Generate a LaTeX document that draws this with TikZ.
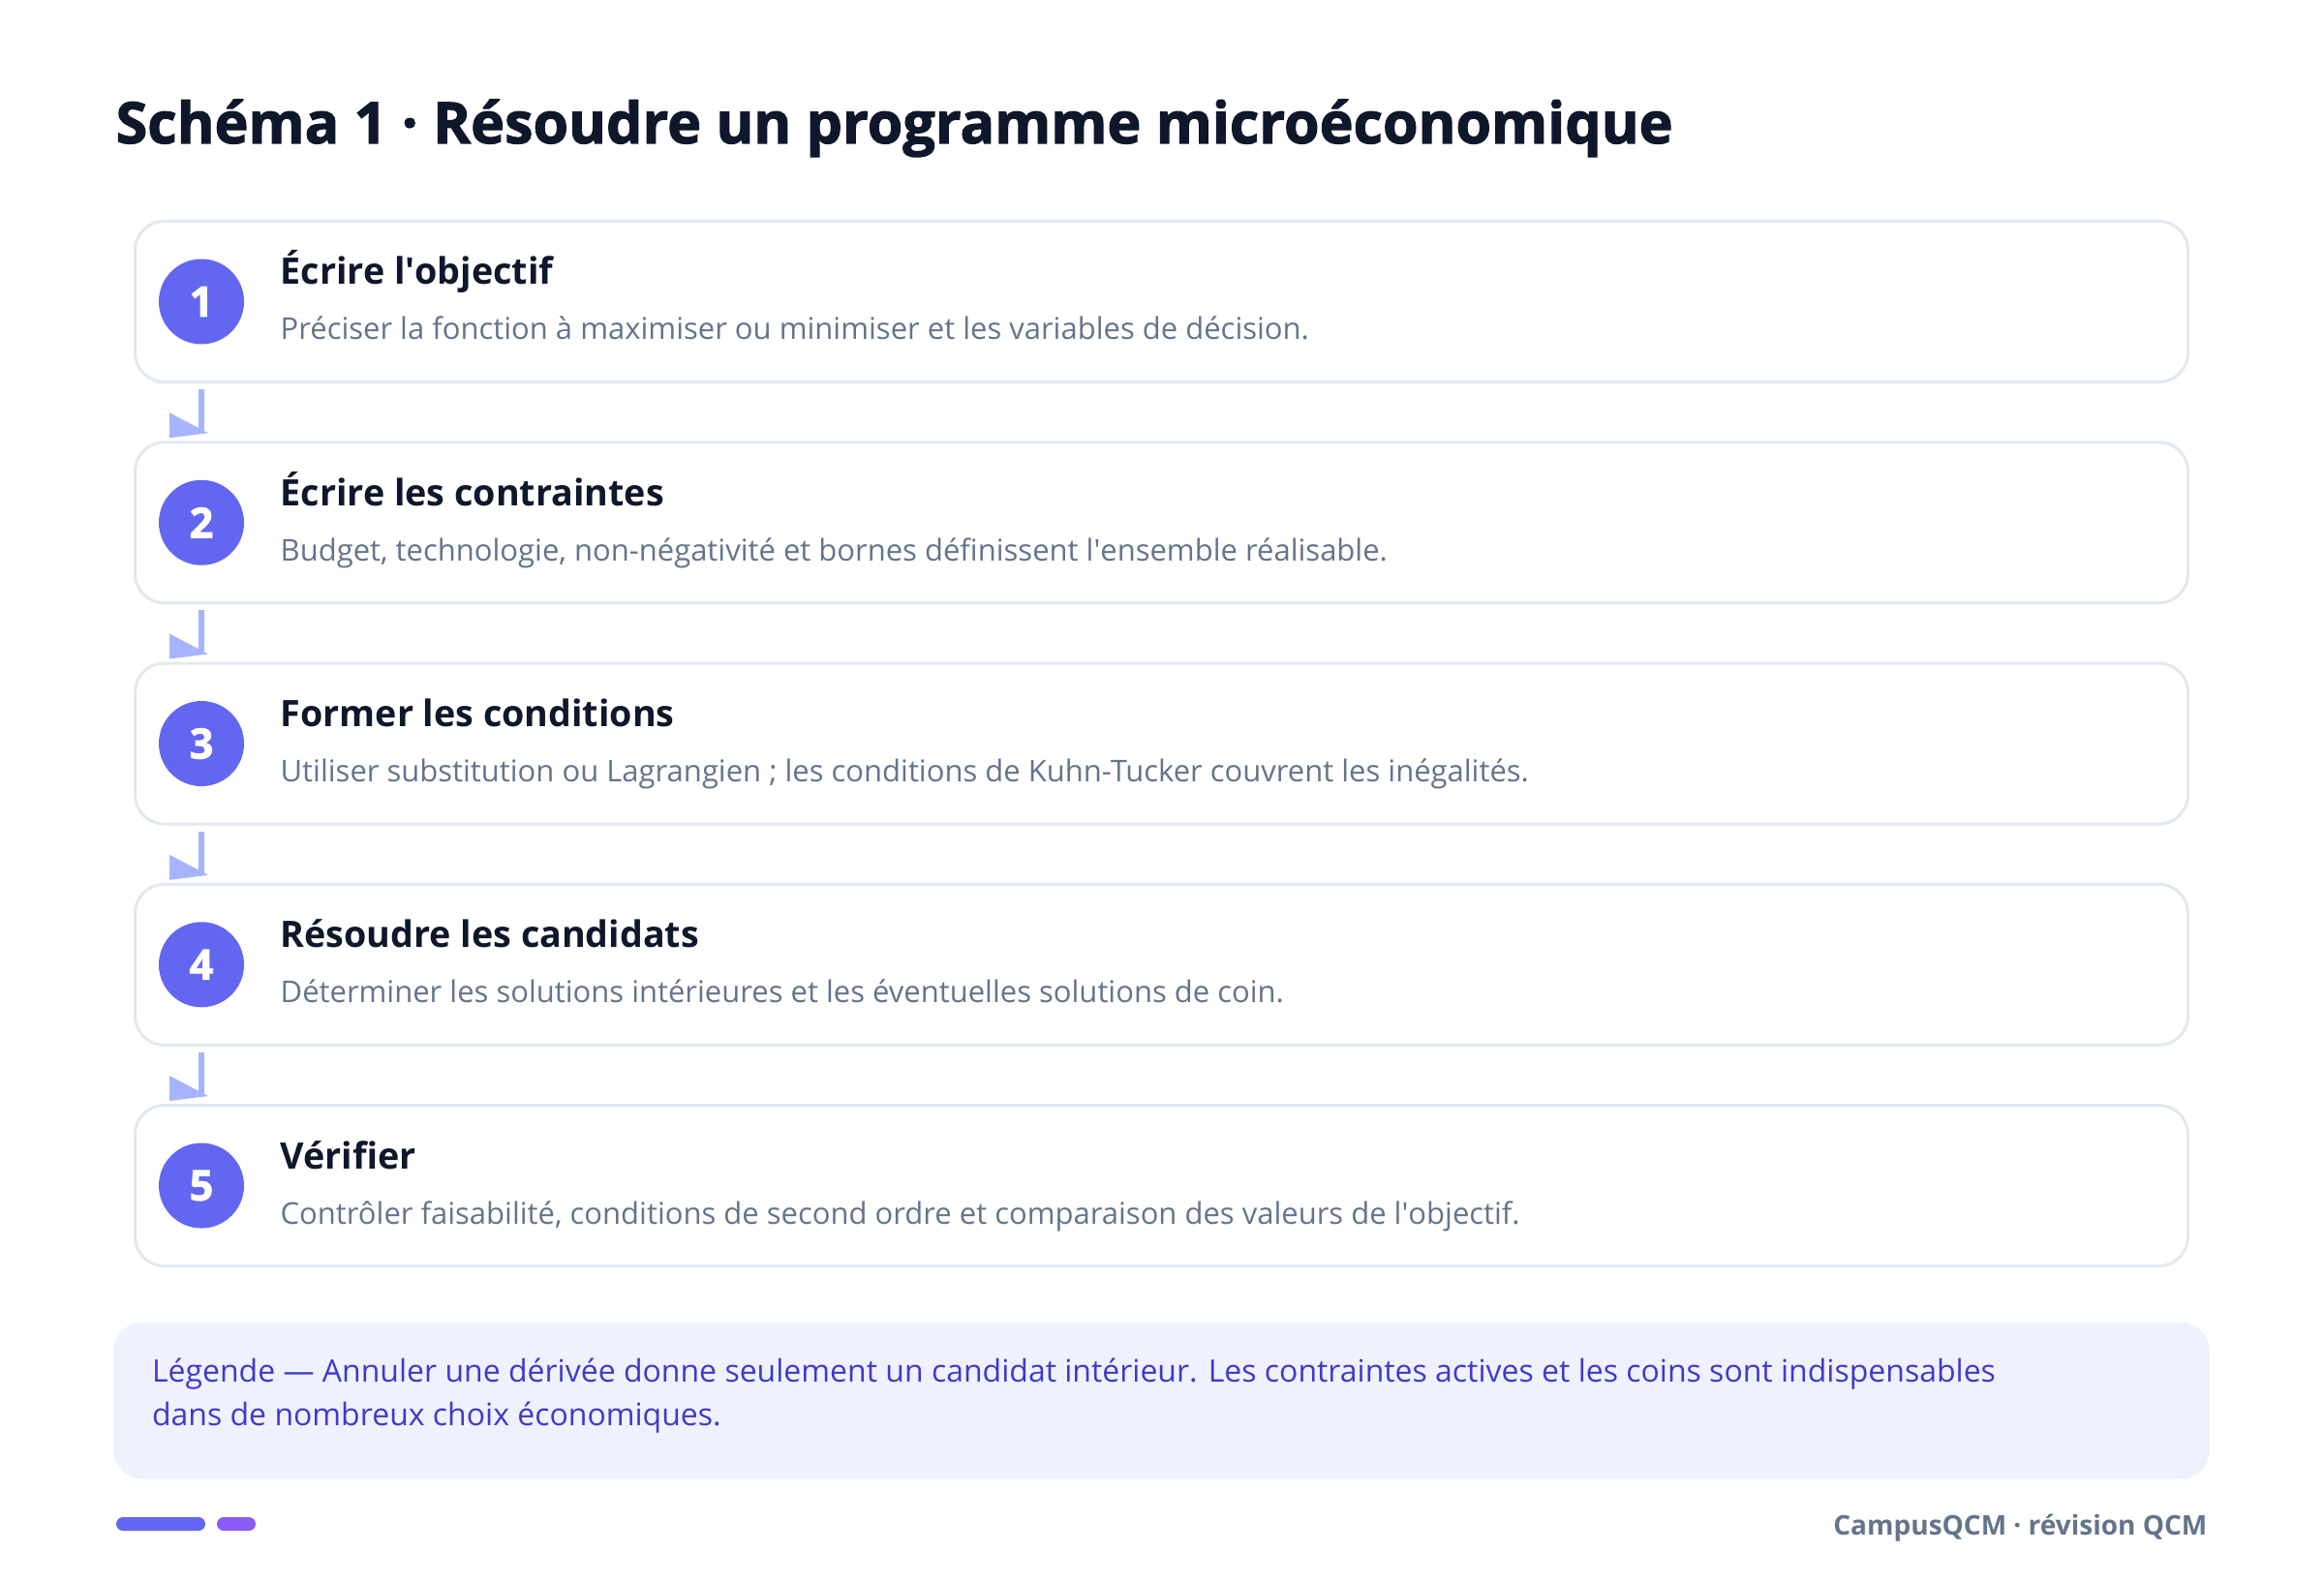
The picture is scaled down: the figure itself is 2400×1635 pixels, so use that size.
\documentclass[tikz,border=0pt]{standalone}
\usepackage{fontspec}
\setmainfont{Open Sans}
\newfontfamily\heavyfont{Open Sans}[BoldFeatures={FakeBold=1.8}]
\usepackage{xcolor}
\usetikzlibrary{positioning}

\definecolor{ink}{HTML}{0F172A}
\definecolor{note}{HTML}{64748B}
\definecolor{cardline}{HTML}{E2E8F0}
\definecolor{badge}{HTML}{6366F1}
\definecolor{linkblue}{HTML}{A5B4FC}
\definecolor{legendfill}{HTML}{EEF2FF}
\definecolor{legendink}{HTML}{4338CA}
\definecolor{barviolet}{HTML}{8B5CF6}

\begin{document}
\begin{tikzpicture}[
    x=0.3pt, y=-0.3pt,
    stepbox/.style={rectangle, draw=cardline, line width=0.9pt, rounded corners=9pt, fill=white, minimum width=636pt, minimum height=49.8pt},
    num/.style={circle, fill=badge, text=white, minimum size=26.4pt, inner sep=0pt, font=\fontsize{13}{14}\selectfont\heavyfont\bfseries},
    heading/.style={anchor=base west, inner sep=0pt, text=ink, font=\fontsize{17.75}{20}\selectfont\heavyfont\bfseries},
    steptitle/.style={anchor=base west, inner sep=0pt, text=ink, font=\fontsize{11.3}{13}\selectfont\bfseries},
    stepnote/.style={anchor=base west, inner sep=0pt, text=note, font=\fontsize{9.3}{11}\selectfont},
    legendbox/.style={rectangle, fill=legendfill, rounded corners=9pt, minimum width=649.5pt, minimum height=48.6pt},
    legendtext/.style={anchor=west, inner sep=0pt, align=left, text=legendink, font=\fontsize{9.6}{13.4}\selectfont},
    link/.style={draw=linkblue, line width=1.8pt},
    linkhead/.style={fill=linkblue}
  ]
    \useasboundingbox (0,0) rectangle (2400,1635);

    % Title
    \node[heading] (title) at (119,148) {Schéma 1 · Résoudre un programme microéconomique};

    % Step boxes
    \node[stepbox] (b1) at (1199.5,311.5) {};
    \node[stepbox, below=17.78pt of b1] (b2) {};
    \node[stepbox, below=17.78pt of b2] (b3) {};
    \node[stepbox, below=17.78pt of b3] (b4) {};
    \node[stepbox, below=17.78pt of b4] (b5) {};

    % Badges
    \node[num] (n1) at ([xshift=21pt]b1.west) {1};
    \node[num] (n2) at ([xshift=21pt]b2.west) {2};
    \node[num] (n3) at ([xshift=21pt]b3.west) {3};
    \node[num] (n4) at ([xshift=21pt]b4.west) {4};
    \node[num] (n5) at ([xshift=21pt]b5.west) {5};

    % Step texts
    \node[steptitle] (t1) at ([xshift=45.3pt, yshift=-20.1pt]b1.north west) {Écrire l\textquotesingle objectif};
    \node[stepnote] (d1) at ([xshift=45.3pt, yshift=-37.2pt]b1.north west) {Préciser la fonction à maximiser ou minimiser et les variables de décision.};
    \node[steptitle] (t2) at ([xshift=45.3pt, yshift=-20.1pt]b2.north west) {Écrire les contraintes};
    \node[stepnote] (d2) at ([xshift=45.3pt, yshift=-37.2pt]b2.north west) {Budget, technologie, non-négativité et bornes définissent l\textquotesingle ensemble réalisable.};
    \node[steptitle] (t3) at ([xshift=45.3pt, yshift=-20.1pt]b3.north west) {Former les conditions};
    \node[stepnote] (d3) at ([xshift=45.3pt, yshift=-37.2pt]b3.north west) {Utiliser substitution ou Lagrangien ; les conditions de Kuhn-Tucker couvrent les inégalités.};
    \node[steptitle] (t4) at ([xshift=45.3pt, yshift=-20.1pt]b4.north west) {Résoudre les candidats};
    \node[stepnote] (d4) at ([xshift=45.3pt, yshift=-37.2pt]b4.north west) {Déterminer les solutions intérieures et les éventuelles solutions de coin.};
    \node[steptitle] (t5) at ([xshift=45.3pt, yshift=-20.1pt]b5.north west) {Vérifier};
    \node[stepnote] (d5) at ([xshift=45.3pt, yshift=-37.2pt]b5.north west) {Contrôler faisabilité, conditions de second ordre et comparaison des valeurs de l\textquotesingle objectif.};

    % Arrows
    \draw[link] ([yshift=-1.8pt]b1.south -| n1) -- ([yshift=2.4pt]b2.north -| n2);
    \fill[linkhead] ([xshift=-9.9pt, yshift=8.7pt]b2.north -| n2) -- ([xshift=-9.9pt, yshift=0.9pt]b2.north -| n2) -- ([xshift=2.1pt, yshift=2.4pt]b2.north -| n2) -- cycle;
    \draw[link] ([yshift=-1.8pt]b2.south -| n2) -- ([yshift=2.4pt]b3.north -| n3);
    \fill[linkhead] ([xshift=-9.9pt, yshift=8.7pt]b3.north -| n3) -- ([xshift=-9.9pt, yshift=0.9pt]b3.north -| n3) -- ([xshift=2.1pt, yshift=2.4pt]b3.north -| n3) -- cycle;
    \draw[link] ([yshift=-1.8pt]b3.south -| n3) -- ([yshift=2.4pt]b4.north -| n4);
    \fill[linkhead] ([xshift=-9.9pt, yshift=8.7pt]b4.north -| n4) -- ([xshift=-9.9pt, yshift=0.9pt]b4.north -| n4) -- ([xshift=2.1pt, yshift=2.4pt]b4.north -| n4) -- cycle;
    \draw[link] ([yshift=-1.8pt]b4.south -| n4) -- ([yshift=2.4pt]b5.north -| n5);
    \fill[linkhead] ([xshift=-9.9pt, yshift=8.7pt]b5.north -| n5) -- ([xshift=-9.9pt, yshift=0.9pt]b5.north -| n5) -- ([xshift=2.1pt, yshift=2.4pt]b5.north -| n5) -- cycle;

    % Legend
    \node[legendbox, below=16.8pt of b5] (legend) {};
    \node[legendtext] (legendtxt) at ([xshift=12pt, yshift=1.5pt]legend.west) {Légende — Annuler une dérivée donne seulement un candidat intérieur. Les contraintes actives et les coins sont indispensables\\dans de nombreux choix économiques.};

    % Footer
    \fill[badge, rounded corners=2.1pt] (120,1567) rectangle (212,1581);
    \fill[barviolet, rounded corners=2.1pt] (224,1567) rectangle (264,1581);
    \node[anchor=base east, inner sep=0pt, text=note, font=\fontsize{8.4}{10}\selectfont\bfseries] (brand) at (2280,1585) {CampusQCM · révision QCM};
  \end{tikzpicture}
\end{document}
